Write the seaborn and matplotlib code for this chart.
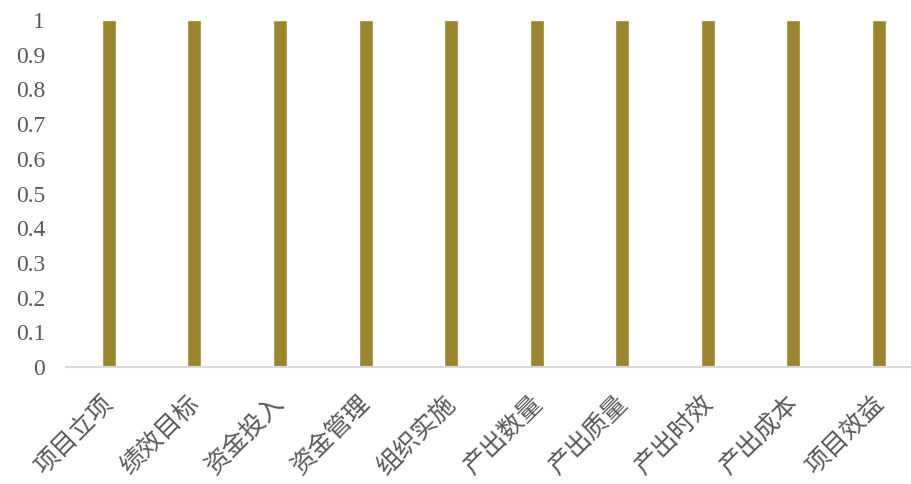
import matplotlib
matplotlib.use("Agg")
import matplotlib.pyplot as plt
import matplotlib.transforms as mtransforms
import seaborn as sns
import pandas as pd

categories = ["项目立项", "绩效目标", "资金投入", "资金管理", "组织实施",
              "产出数量", "产出质量", "产出时效", "产出成本", "项目效益"]
values = [1, 1, 1, 1, 1, 1, 1, 1, 1, 1]
yticks = [0, 0.1, 0.2, 0.3, 0.4, 0.5, 0.6, 0.7, 0.8, 0.9, 1]
ytick_labels = ["0", "0.1", "0.2", "0.3", "0.4", "0.5", "0.6", "0.7", "0.8", "0.9", "1"]

sns.set_theme(style="white")
plt.rcParams['font.family'] = ['Noto Sans CJK SC', 'DejaVu Sans']

df = pd.DataFrame({"cat": categories, "val": values})

fig = plt.figure(figsize=(9.12, 4.84), dpi=100)
ax = fig.add_axes([66/912, 1-367/484, 1-66/912, (367-20)/484])
sns.barplot(data=df, x="cat", y="val", color="#9B852F", saturation=1, width=0.164, ax=ax)

ax.set_xlim(-0.5, 9.385)
ax.set_ylim(0, 1)
ax.set_yticks(yticks)
ax.set_yticklabels(ytick_labels, family=["Liberation Serif", "DejaVu Serif"], fontsize=17)
ax.set_xlabel("")
ax.set_ylabel("")
for s in ["top", "right", "left"]:
    ax.spines[s].set_visible(False)
ax.spines["bottom"].set_color("#D9D9D9")
ax.spines["bottom"].set_linewidth(1.5)
ax.tick_params(axis="both", length=0, colors="#595959")
ax.tick_params(axis="y", pad=15)
ax.tick_params(axis="x", pad=17)
offset = mtransforms.ScaledTranslation(-8/100, 0, fig.dpi_scale_trans)
for lab in ax.get_xticklabels():
    lab.set_rotation(45)
    lab.set_ha("right")
    lab.set_rotation_mode("anchor")
    lab.set_fontsize(18)
    lab.set_fontweight("light")
    lab.set_transform(lab.get_transform() + offset)

fig.savefig("out.png", dpi=100)
